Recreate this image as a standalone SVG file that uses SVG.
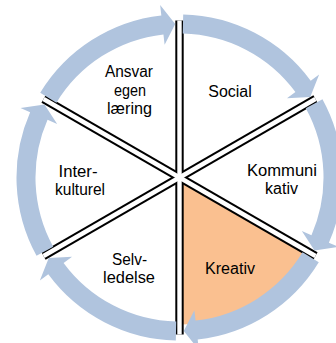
<svg xmlns="http://www.w3.org/2000/svg" xmlns:xlink="http://www.w3.org/1999/xlink" width="336" height="343" viewBox="0 0 336 343">
  <style>
    .lbl { font-family: "Liberation Sans", Arial, sans-serif; font-size: 16px; fill: #000; text-anchor: middle; }
    .spoke-b { stroke: #000; stroke-width: 8.4; fill: none; }
    .spoke-w { stroke: #fff; stroke-width: 4.4; fill: none; }
    .arrow { fill: #B0C4DE; }
  </style>
  <defs>
    <path id="arc" d="M 40.22 92.82 A 163 163 0 0 1 161.33 15.51 L 160.16 5.08 L 175.22 24.06 L 164.62 44.83 L 163.44 34.39 A 144 144 0 0 0 56.45 102.69 Z"/>
  </defs>
  <rect width="336" height="343" fill="#fff"/>

  <g id="node-kreativ-fill">
    <path d="M 179.5 177.5 L 306.8 251 A 147 147 0 0 1 179.5 324.5 Z" fill="#FAC090"/>
  </g>

  <g id="dividers">
    <line class="spoke-b" x1="179.5" y1="20.5" x2="179.5" y2="334.5"/>
    <line class="spoke-b" x1="315.47" y1="99" x2="43.53" y2="256"/>
    <line class="spoke-b" x1="315.47" y1="256" x2="43.53" y2="99"/>
    <line class="spoke-w" x1="179.5" y1="20.5" x2="179.5" y2="334.5"/>
    <line class="spoke-w" x1="315.47" y1="99" x2="43.53" y2="256"/>
    <line class="spoke-w" x1="315.47" y1="256" x2="43.53" y2="99"/>
  </g>

  <g id="connectors">
    <use xlink:href="#arc" class="arrow"/>
    <use xlink:href="#arc" class="arrow" transform="rotate(60 179.5 177.5)"/>
    <use xlink:href="#arc" class="arrow" transform="rotate(120 179.5 177.5)"/>
    <use xlink:href="#arc" class="arrow" transform="rotate(180 179.5 177.5)"/>
    <use xlink:href="#arc" class="arrow" transform="rotate(240 179.5 177.5)"/>
    <use xlink:href="#arc" class="arrow" transform="rotate(300 179.5 177.5)"/>
  </g>

  <g id="node-ansvar">
    <text class="lbl" x="129" y="76.5" textLength="48" lengthAdjust="spacingAndGlyphs">Ansvar</text>
    <text class="lbl" x="130" y="95.5" textLength="32" lengthAdjust="spacingAndGlyphs">egen</text>
    <text class="lbl" x="129.5" y="114" textLength="45" lengthAdjust="spacingAndGlyphs">læring</text>
  </g>
  <g id="node-social">
    <text class="lbl" x="230" y="97" textLength="43.5" lengthAdjust="spacingAndGlyphs">Social</text>
  </g>
  <g id="node-kommunikativ">
    <text class="lbl" x="282" y="175.5" textLength="70" lengthAdjust="spacingAndGlyphs">Kommuni</text>
    <text class="lbl" x="281.5" y="193.5" textLength="33" lengthAdjust="spacingAndGlyphs">kativ</text>
  </g>
  <g id="node-kreativ">
    <text class="lbl" x="230" y="273.5" textLength="50" lengthAdjust="spacingAndGlyphs">Kreativ</text>
  </g>
  <g id="node-selvledelse">
    <text class="lbl" x="129.5" y="265" textLength="35" lengthAdjust="spacingAndGlyphs">Selv-</text>
    <text class="lbl" x="129" y="283" textLength="52" lengthAdjust="spacingAndGlyphs">ledelse</text>
  </g>
  <g id="node-interkulturel">
    <text class="lbl" x="78" y="177" textLength="39" lengthAdjust="spacingAndGlyphs">Inter-</text>
    <text class="lbl" x="80" y="194.5" textLength="50" lengthAdjust="spacingAndGlyphs">kulturel</text>
  </g>
</svg>
